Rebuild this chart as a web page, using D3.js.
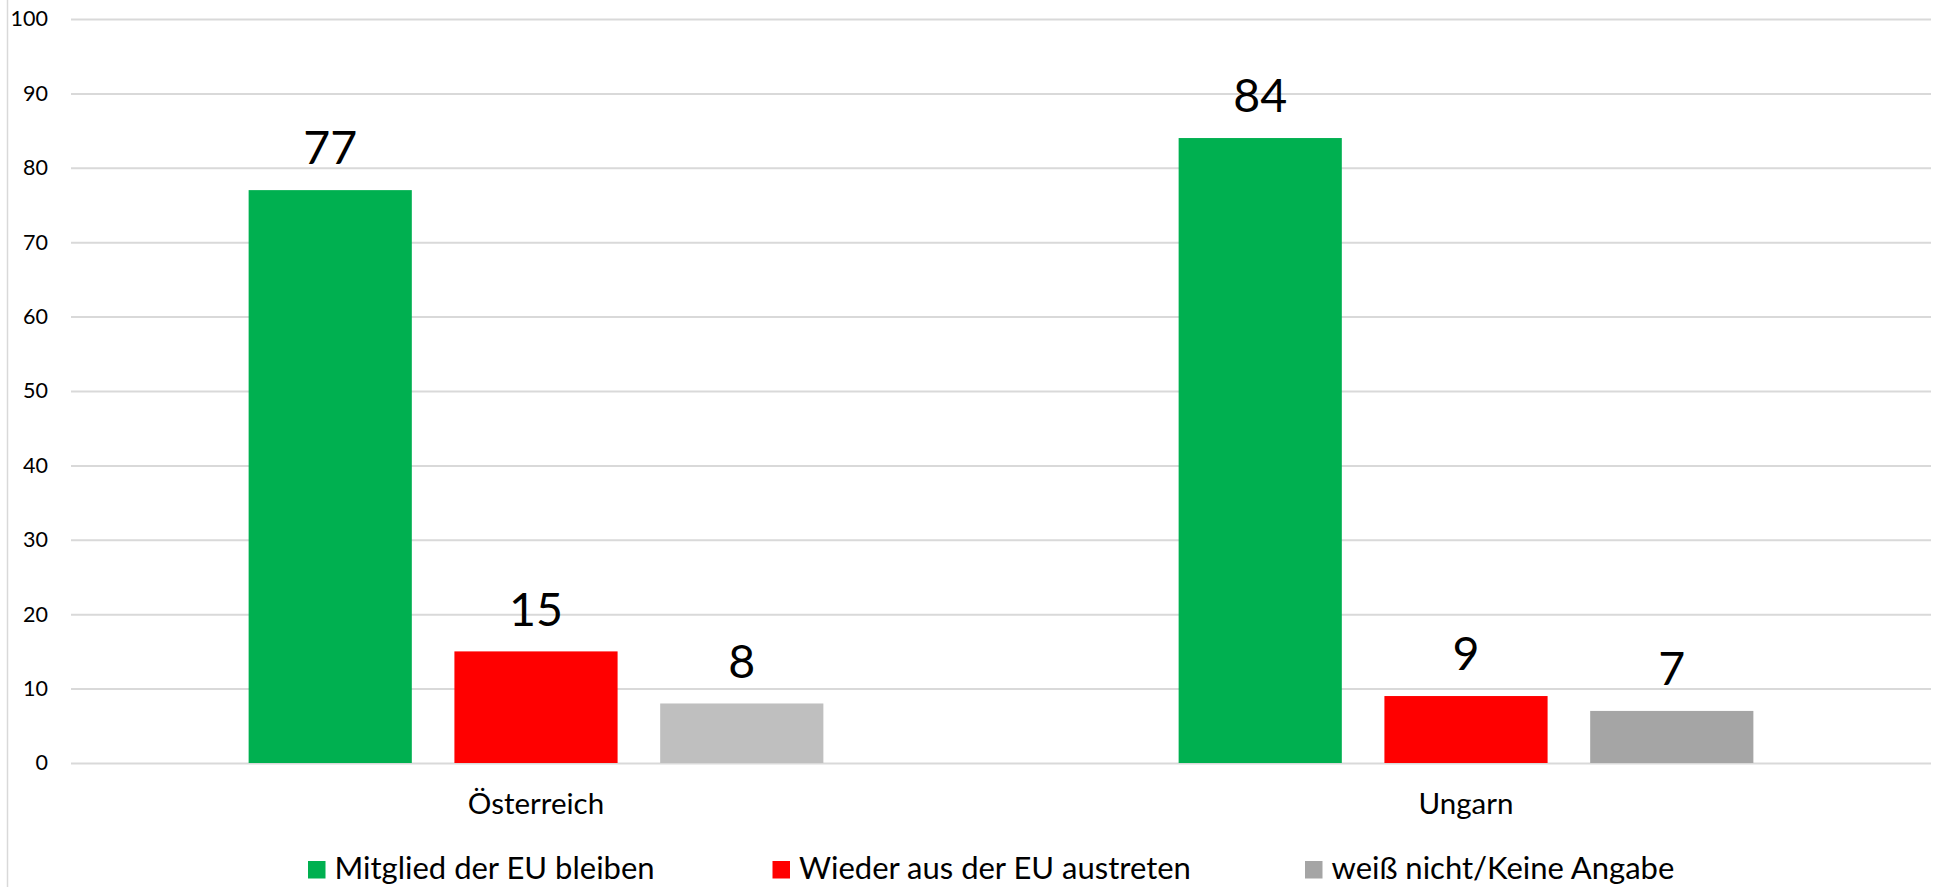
<!DOCTYPE html>
<html>
<head>
<meta charset="utf-8">
<script src="https://cdn.jsdelivr.net/npm/d3@7"></script>
<style>
  html, body { margin: 0; padding: 0; background: #fff; }
  svg { display: block; font-family: Lato, "Open Sans", sans-serif; }
</style>
</head>
<body>
<svg id="chart" width="1939" height="887"></svg>
<script>
// ---- data ----
const categories = ["Österreich", "Ungarn"];
const seriesNames = ["Mitglied der EU bleiben", "Wieder aus der EU austreten", "weiß nicht/Keine Angabe"];
const bleiben = [77, 84];
const austreten = [15, 9];
const weissNicht = [8, 7];
const seriesColors = ["#00B050", "#FF0000", "#A5A5A5"];
const weissNichtPointColors = ["#BFBFBF", "#A5A5A5"];
const yTicks = [0, 10, 20, 30, 40, 50, 60, 70, 80, 90, 100];

const seriesValues = [bleiben, austreten, weissNicht];

// ---- layout ----
const W = 1939, H = 887;
const plot = { left: 71, right: 1931, top: 19, bottom: 763 };
const legendLeft = [308, 772.5, 1305];
const svg = d3.select("#chart");

svg.append("rect").attr("width", W).attr("height", H).attr("fill", "#fff");
svg.append("line").attr("x1", 7.5).attr("x2", 7.5).attr("y1", 0).attr("y2", H)
  .attr("stroke", "#d9d9d9").attr("stroke-width", 1.5);

const y = d3.scaleLinear().domain([0, 100]).range([plot.bottom, plot.top]);
const x0 = d3.scaleBand().domain(categories).range([plot.left, plot.right])
  .paddingInner(0.382).paddingOuter(0.191);
const x1 = d3.scaleBand().domain(seriesNames).range([0, x0.bandwidth()])
  .paddingInner(0.207).paddingOuter(0);

// gridlines
const grid = svg.append("g").attr("transform", `translate(${plot.left},0)`)
  .call(d3.axisLeft(y).tickValues(yTicks).tickSize(-(plot.right - plot.left)).tickFormat(""));
grid.select(".domain").remove();
grid.selectAll(".tick line").attr("stroke", "#d9d9d9").attr("stroke-width", 2);

// y labels
const yAxis = svg.append("g").attr("transform", `translate(${plot.left},0)`)
  .call(d3.axisLeft(y).tickValues(yTicks).tickSize(0).tickPadding(23));
yAxis.select(".domain").remove();
yAxis.selectAll("text").attr("font-family", "Lato").attr("font-size", 21.5).attr("fill", "#000");

// bars
const groups = svg.append("g").selectAll("g").data(categories).join("g")
  .attr("transform", d => `translate(${x0(d)},0)`);

groups.each(function(cat, ci) {
  const g = d3.select(this);
  seriesNames.forEach((s, si) => {
    const v = seriesValues[si][ci];
    const color = si === 2 ? weissNichtPointColors[ci] : seriesColors[si];
    g.append("rect")
      .attr("x", x1(s)).attr("width", x1.bandwidth())
      .attr("y", y(v)).attr("height", y(0) - y(v))
      .attr("fill", color);
    g.append("text")
      .attr("x", x1(s) + x1.bandwidth() / 2)
      .attr("y", y(v) - 25.7)
      .attr("text-anchor", "middle")
      .attr("font-size", 46.5)
      .attr("fill", "#000")
      .text(v);
  });
});

// category labels
svg.append("g").selectAll("text").data(categories).join("text")
  .attr("x", d => x0(d) + x0.bandwidth() / 2)
  .attr("y", 814)
  .attr("text-anchor", "middle")
  .attr("font-size", 29.5)
  .attr("fill", "#000")
  .text(d => d);

// legend
const items = svg.append("g").selectAll("g").data(seriesNames).join("g")
  .attr("transform", (d, i) => `translate(${legendLeft[i]},0)`);
items.append("rect").attr("width", 17.5).attr("height", 17.5).attr("y", 861)
  .attr("fill", (d, i) => seriesColors[i]);
items.append("text").attr("x", 26.5).attr("y", 879)
  .attr("font-size", 31).attr("fill", "#000").text(d => d);
</script>
</body>
</html>
